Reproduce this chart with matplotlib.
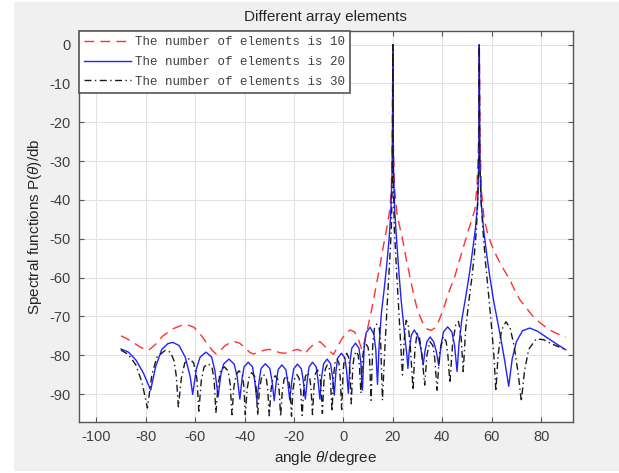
import matplotlib
matplotlib.use("Agg")
import matplotlib.pyplot as plt
from matplotlib.patches import Rectangle

plt.rcParams["axes.unicode_minus"] = False
plt.rcParams["mathtext.fontset"] = "custom"
plt.rcParams["mathtext.it"] = "Liberation Sans:italic"
plt.rcParams["mathtext.rm"] = "Liberation Sans"

# ---------------- data ----------------
x_n10 = [-90, -86, -82, -79, -76.5, -73, -69, -65.5, -63, -60.5, -58, -55.5, -53, -51.5,
         -50, -48, -46, -44, -42, -40, -38, -36.5, -34.5, -32, -30, -28, -26, -24, -22,
         -20, -18.5, -17, -15.5, -14, -12, -9.5, -7.5, -5.5, -4, -2.5, -1, 1, 2.8, 4.5,
         6, 7.5, 8.5, 10, 11.5, 13, 14.5, 16, 17.5, 18.8, 19.4, 19.8, 20, 20.2, 20.7, 21.8,
         23, 24.2, 25.5, 27, 28.5, 30, 32, 34, 35.5, 37, 38.5, 40.4, 42.5, 45.1, 47, 49.1,
         51, 53.2, 54.1, 54.7, 55, 55.3, 55.9, 57, 58.5, 59.9, 62, 64.5, 67.3, 69.5, 71.4,
         74, 76.5, 79.5, 83, 86, 90]
y_n10 = [-75, -76.3, -78, -78.8, -77.5, -75, -73.2, -72.3, -72.2, -72.8, -74.5, -76.7, -78.8, -79.7,
         -79, -77.6, -76.8, -76.5, -76.9, -78, -79.2, -79.7, -79.3, -78.7, -78.5, -78.8, -79.3, -79.5, -79.3,
         -78.7, -78.5, -78.9, -79.6, -78.4, -77.2, -76.5, -77.7, -79, -79.8, -78, -76.2, -74.3, -73.5, -74,
         -75.8, -78.6, -76.5, -72.5, -68, -63, -58, -52.5, -47.5, -42.5, -37, -25, 0, -25, -37, -44,
         -47.5, -51, -55.5, -60, -64.5, -68.5, -71.5, -73.3, -73.6, -73, -71.3, -68.3, -64, -59.7, -55.5, -51,
         -47, -42.5, -36, -25, 0, -25, -38, -45, -49, -51.5, -54.5, -57.5, -60.5, -63.5, -65.7,
         -67.8, -69.8, -71.6, -73.3, -74.3, -75.3]

x_n20 = [-90, -87, -84, -81, -79, -78, -76, -73.5, -71, -69, -66.5, -64, -62, -61,
         -59.5, -58, -55.6, -53.3, -52, -50.7,
         -49.6, -48.5, -46.3, -44.2, -43, -41.9,
         -41, -40.2, -38.5, -36.8, -35.9, -35,
         -34.1, -33.3, -31.6, -29.8, -28.9, -28,
         -27.2, -26.4, -24.9, -23.3, -22.5, -21.7,
         -20.9, -20.1, -18.6, -17, -16.2, -15.4,
         -14.6, -13.9, -12.5, -11, -10.3, -9.5,
         -8.8, -8, -6.6, -5.2, -4.4, -3.7,
         -3, -2.3, -0.8, 0.6, 1.3, 2,
         2.7, 3.4, 4.9, 6.3, 7, 7.7,
         8.4, 9.2, 10.8, 12.3, 13.1, 13.8,
         14.5, 15.4, 16.5, 17.5, 18.5, 19.2, 19.7, 19.9, 20, 20.1, 20.3, 20.8, 21.6, 22.5,
         23.4, 24.2, 25, 25.7, 26.1,
         26.7, 27.5, 28.7, 30.1, 31.3, 32.3,
         33, 33.8, 35.1, 36.5, 37.6, 38.6,
         39.5, 40.5, 42.2, 43.9, 45, 46,
         46.8, 48, 49.5, 51, 52.3, 53.5, 54.3, 54.8, 55, 55.2, 55.8, 56.8, 58, 59.3, 60.8,
         62.3, 63.8, 65.3, 66.9,
         68.3, 70, 72.5, 75.4, 78.5, 82, 86, 90]
y_n20 = [-78.4, -79.2, -81.2, -84.5, -87.5, -89, -83, -78.5, -77, -76.7, -77.5, -80.5, -85.5, -90.1,
         -83.5, -80.5, -79.2, -80.5, -84, -90.7,
         -85, -82.3, -81, -82.3, -85.5, -91.3,
         -86, -83, -81.8, -83, -86.5, -91.7,
         -86.5, -83.4, -82.2, -83.4, -86.5, -91.7,
         -87, -83.7, -82.5, -83.7, -87, -91.5,
         -86.8, -83.5, -82.3, -83.5, -86.8, -91.3,
         -86.3, -83, -81.8, -83, -86.3, -91.3,
         -85.5, -82.2, -81, -82.2, -85.5, -90.3,
         -84, -80.7, -79.5, -80.7, -84, -89.8,
         -81.5, -78.2, -76.9, -78.2, -81.5, -89,
         -78, -74.2, -72.8, -74.5, -78.5, -87.5,
         -77, -69, -63, -57, -50, -43, -33, -20, 0, -20, -33, -43, -51, -59,
         -66, -71, -76, -80, -83.4,
         -78.5, -74.8, -73.5, -75, -78, -82.5,
         -79, -76.5, -75.3, -76.5, -79, -82.7,
         -77.5, -74, -72.7, -74, -77.5, -84.2,
         -77, -70.5, -65, -59, -53, -47, -41, -30, 0, -30, -41, -48, -54, -60, -66,
         -71, -76, -81.5, -88,
         -81, -76.5, -73.7, -73, -73.8, -75.3, -77, -78.6]

x_n30 = [-90, -87, -84, -81.5, -79.3, -77.5, -75.5, -72, -70, -68.5, -67.6, -66.8,
         -65.6, -64.2, -62.3, -60.6, -59.3, -58.5,
         -57.5, -56.4, -54.8, -53.2, -52.3, -51.6,
         -50.7, -49.7, -48.2, -46.7, -45.8, -45.1,
         -44.3, -43.3, -42.3, -40.9, -40.3, -39.7,
         -38.9, -38.1, -37.1, -35.9, -35.3, -34.7,
         -34, -33.2, -32.3, -31.2, -30.6, -30,
         -29.3, -28.6, -27.6, -26.6, -26, -25.4,
         -24.7, -24, -23.1, -22.2, -21.6, -21,
         -20.4, -19.7, -18.8, -17.9, -17.3, -16.7,
         -16, -15.4, -14.6, -13.7, -13.1, -12.5,
         -11.9, -11.3, -10.5, -9.6, -9.1, -8.5,
         -7.9, -7.3, -6.5, -5.7, -5.2, -4.6,
         -4, -3.4, -2.6, -1.8, -1.3, -0.7,
         -0.1, 0.5, 1.3, 2.1, 2.6, 3.2,
         3.8, 4.4, 5.2, 6, 6.5, 7.1,
         7.7, 8.3, 9.1, 10, 10.6, 11.2,
         11.9, 12.6, 13.5, 14.5, 15.1, 15.8,
         16.8, 17.8, 18.8, 19.4, 19.8, 20, 20.2, 20.6, 21.4, 22.3, 23.1, 23.9,
         24.6, 25.4, 26.2, 27.1, 28.2,
         28.9, 29.8, 30.8, 31.8, 32.9,
         33.8, 35, 36.2, 37, 37.9,
         39, 40.4, 41.6, 42.3, 43.1,
         44.2, 45.5, 46.6, 47.6, 48.5,
         49.5, 50.8, 52, 53, 53.8, 54.4, 54.8, 55, 55.2, 55.7, 56.5, 57.5, 58.7, 60, 61, 61.7,
         62.6, 64, 65.8, 67.5, 69.2, 70.8, 72,
         73.3, 75, 78, 81, 84, 87, 90]
y_n30 = [-78.7, -79.8, -82.5, -87, -93.6, -85, -80.5, -78.7, -79.2, -81.5, -85.5, -93.3,
         -86, -82, -80.8, -82, -86, -94.4,
         -86.5, -83, -82.2, -83, -86.5, -94.9,
         -87.5, -84, -83, -84, -87.5, -95.3,
         -88, -85, -84, -85, -88, -95.3,
         -88.5, -85.5, -84.5, -85.5, -88.5, -95.5,
         -89, -86, -85, -86, -89, -95.6,
         -89, -86.2, -85.3, -86.2, -89, -95.8,
         -89, -86.2, -85.3, -86.2, -89, -95.7,
         -88.8, -86, -85, -86, -88.8, -95.5,
         -88.5, -85.5, -84.5, -85.5, -88.5, -95.3,
         -88, -84.8, -83.8, -84.8, -88, -95,
         -87, -83.5, -82.5, -83.5, -87, -94.5,
         -85.5, -82, -81, -82, -85.5, -94,
         -84, -80.5, -79.5, -80.5, -84, -92.5,
         -83, -80, -79, -80, -83, -89.8,
         -81, -78, -77, -78, -81, -91.6,
         -77, -73, -72, -73, -77, -91.6,
         -78, -66, -55, -47, -35, 0, -35, -47, -57, -67, -76, -85.1,
         -76, -71, -72, -78, -89,
         -79, -74.3, -75.5, -80, -87.7,
         -80, -76.5, -77.5, -81, -89,
         -79, -75.2, -76.5, -80, -87.2,
         -77, -72, -71.3, -75, -84.2,
         -73, -66, -60, -54, -48, -40, -30, 0, -30, -40, -48, -56, -64, -73, -81, -89.3,
         -80, -73.5, -71.4, -73, -78, -85, -91.9,
         -84, -78.5, -75.8, -76, -77, -77.8, -78.6]

labels = ["The number of elements is 10",
          "The number of elements is 20",
          "The number of elements is 30"]
x_ticks = [-100, -80, -60, -40, -20, 0, 20, 40, 60, 80]
y_ticks = [0, -10, -20, -30, -40, -50, -60, -70, -80, -90]

# ---------------- figure ----------------
W, H = 619, 473
fig = plt.figure(figsize=(W / 100, H / 100), dpi=100, facecolor="white")
fig.patches.append(Rectangle((14 / W, 2 / H), 1 - 14 / W, 469 / H,
                             transform=fig.transFigure, facecolor="#f0f0f0",
                             edgecolor="none", zorder=-10))

ax = fig.add_axes([79 / W, (H - 422) / H, (572.7 - 79) / W, (422 - 31) / H])
ax.set_facecolor("white")

ax.plot(x_n10, y_n10, color="#ff3030", lw=1.0, dashes=(7, 4.5), label=labels[0], zorder=3)
ax.plot(x_n20, y_n20, color="#2222ff", lw=1.0, label=labels[1], zorder=4)
ax.plot(x_n30, y_n30, color="#1a1a1a", lw=1.0, dashes=(5, 2.5, 1, 2.5), label=labels[2], zorder=5)

ax.set_xlim(-107, 92.8)
ax.set_ylim(-97.2, 3.5)
ax.set_xticks(x_ticks)
ax.set_yticks(y_ticks)
ax.grid(True, color="#e2e2e2", lw=0.8)
ax.set_axisbelow(True)

spine_c = "#555555"
for s in ax.spines.values():
    s.set_color(spine_c)
    s.set_linewidth(1.0)
ax.tick_params(direction="in", length=3.5, width=0.8, color=spine_c,
               top=True, right=True, labelsize=10.5, labelcolor="#404040", pad=6)
for lab in ax.get_xticklabels() + ax.get_yticklabels():
    lab.set_fontfamily("Liberation Sans")

tfont = dict(family="Liberation Sans", size=11, color="#262626")
ax.set_title("Different array elements", pad=7, **tfont)
ax.set_xlabel(r"angle $\theta$/degree", labelpad=3, **tfont)
ax.set_ylabel(r"Spectral functions P($\theta$)/db", labelpad=4, **tfont)

leg = ax.legend(loc="upper left", bbox_to_anchor=(0, 1), borderaxespad=0,
                prop=dict(family="Liberation Mono", size=9.0),
                handlelength=3.7, handletextpad=0.35, labelspacing=0.62,
                borderpad=0.42, fancybox=False, framealpha=1, edgecolor=spine_c)
leg.get_frame().set_linewidth(1.2)
for t in leg.get_texts():
    t.set_color("#404040")

fig.savefig("out.png", dpi=100, facecolor=fig.get_facecolor())
